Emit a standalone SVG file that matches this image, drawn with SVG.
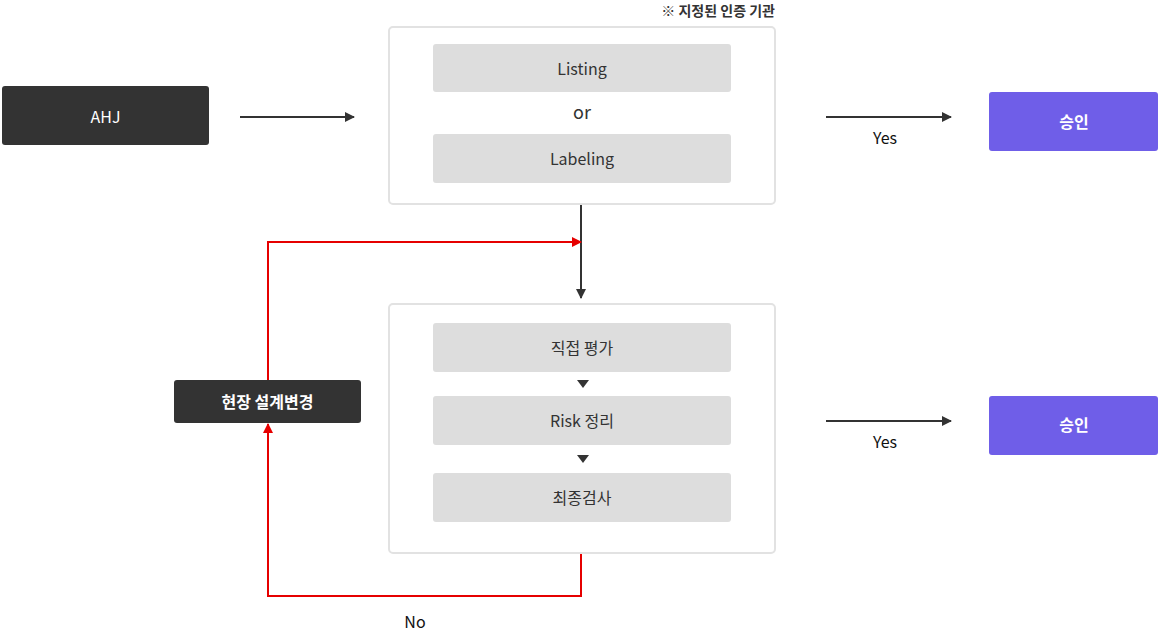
<svg xmlns="http://www.w3.org/2000/svg" width="1161" height="631" viewBox="0 0 1161 631">
<defs>
<style>
.t{font-family:"Noto Sans CJK KR","Noto Sans",sans-serif;font-size:16px;text-anchor:middle;dominant-baseline:central}
.dark{fill:#333333}
.wt{fill:#ffffff;font-weight:bold}
.gt{fill:#333333}
.box{fill:#dddddd}
.cont{fill:#ffffff;stroke:#e2e2e2;stroke-width:2}
.pur{fill:#6f5ee8}
.ln{stroke:#333333;stroke-width:2;fill:none}
.rd{stroke:#e60000;stroke-width:2;fill:none}
</style>
<marker id="ab" markerWidth="10" markerHeight="10" refX="9" refY="5" orient="auto" markerUnits="userSpaceOnUse"><path d="M0,0 L10,5 L0,10 Z" fill="#333333"/></marker>
<marker id="ar" markerWidth="10" markerHeight="10" refX="9" refY="5" orient="auto" markerUnits="userSpaceOnUse"><path d="M0,0 L10,5 L0,10 Z" fill="#e60000"/></marker>
</defs>
<rect width="1161" height="631" fill="#ffffff"/>

<g id="connectors">
<line class="ln" x1="240" y1="117" x2="354" y2="117" marker-end="url(#ab)"/>
<line class="ln" x1="826" y1="117" x2="951" y2="117" marker-end="url(#ab)"/>
<line class="ln" x1="826" y1="421" x2="951" y2="421" marker-end="url(#ab)"/>
<line class="ln" x1="581" y1="204" x2="581" y2="298" marker-end="url(#ab)"/>
<polyline class="rd" points="268,381 268,242 581,242" marker-end="url(#ar)"/>
<polyline class="rd" points="581,553 581,596 268,596 268,424" marker-end="url(#ar)"/>
<text class="t" x="885" y="137" fill="#111">Yes</text>
<text class="t" x="885" y="441" fill="#111">Yes</text>
<text class="t" x="415" y="621" fill="#111">No</text>
</g>

<g id="ahj">
<rect class="dark" x="2" y="86" width="207" height="59" rx="3"/>
<text class="t wt" x="105.5" y="116" style="font-weight:normal">AHJ</text>
</g>

<g id="cert">
<text class="t" x="775" y="10" style="text-anchor:end;font-size:14px;font-weight:bold" fill="#333">※ 지정된 인증 기관</text>
<rect class="cont" x="389" y="27" width="386" height="177" rx="4"/>
</g>
<g id="listing">
<rect class="box" x="433" y="44" width="298" height="48" rx="3"/>
<text class="t gt" x="582" y="68">Listing</text>
</g>
<text class="t gt" x="582" y="111" style="font-size:18px">or</text>
<g id="labeling">
<rect class="box" x="433" y="134" width="298" height="49" rx="3"/>
<text class="t gt" x="582" y="158">Labeling</text>
</g>

<g id="approve1">
<rect class="pur" x="989" y="92" width="169" height="59" rx="3"/>
<text class="t wt" x="1074" y="121">승인</text>
</g>

<g id="eval">
<rect class="cont" x="389" y="304" width="386" height="249" rx="4"/>
</g>
<g id="direct">
<rect class="box" x="433" y="323" width="298" height="49" rx="3"/>
<text class="t gt" x="582" y="347">직접 평가</text>
</g>
<path d="M577,380 L589,380 L583,388 Z" fill="#333"/>
<g id="risk">
<rect class="box" x="433" y="396" width="298" height="49" rx="3"/>
<text class="t gt" x="582" y="420">Risk 정리</text>
</g>
<path d="M577,455 L589,455 L583,463 Z" fill="#333"/>
<g id="final">
<rect class="box" x="433" y="473" width="298" height="49" rx="3"/>
<text class="t gt" x="582" y="497">최종검사</text>
</g>

<g id="change">
<rect class="dark" x="174" y="380" width="187" height="43" rx="3"/>
<text class="t wt" x="267.5" y="401">현장 설계변경</text>
</g>

<g id="approve2">
<rect class="pur" x="989" y="396" width="169" height="59" rx="3"/>
<text class="t wt" x="1074" y="424">승인</text>
</g>
</svg>
